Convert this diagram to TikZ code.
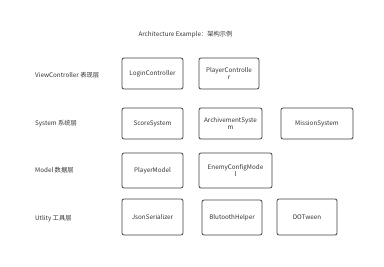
\documentclass[tikz,border=0pt]{standalone}
\usepackage{fontspec}
\setmainfont{Noto Sans CJK SC}
\begin{document}
\begin{tikzpicture}[x=1pt,y=-1pt,
  box/.style={draw=black!75, line width=0.8pt, rounded corners=2pt, align=center,
    inner sep=1pt, font=\fontsize{6.3}{7.5}\selectfont, text=black!80},
  lab/.style={anchor=west, inner sep=0pt, font=\fontsize{6.3}{7.5}\selectfont, text=black!80}]
\useasboundingbox (0,0) rectangle (384,266);
\node[inner sep=0pt, font=\fontsize{6.3}{7.5}\selectfont, text=black!80] (title) at (185.5,35) {Architecture Example：架构示例};
\node[lab] (l1) at (35,75) {ViewController 表现层};
\node[lab] (l2) at (35,124) {System 系统层};
\node[lab] (l3) at (35,170) {Model 数据层};
\node[lab] (l4) at (35,219) {Utlity 工具层};
\node[box, minimum width=61pt, minimum height=31pt] (login) at (152.5,73.5) {LoginController};
\node[box, minimum width=60pt, minimum height=31pt] (player) at (229,73.5) {PlayerControlle\\r};
\node[box, minimum width=61pt, minimum height=31pt] (score) at (152.5,123.5) {ScoreSystem};
\node[box, minimum width=63pt, minimum height=31pt] (arch) at (230.5,123.5) {ArchivementSyste\\m};
\node[box, minimum width=72pt, minimum height=31pt] (mission) at (317,123.5) {MissionSystem};
\node[box, minimum width=61pt, minimum height=35pt] (pmodel) at (152.5,170.5) {PlayerModel};
\node[box, minimum width=73pt, minimum height=35pt] (enemy) at (235.5,170.5) {EnemyConfigMode\\l};
\node[box, minimum width=61pt, minimum height=36pt] (json) at (152.5,217) {JsonSerializer};
\node[box, minimum width=60pt, minimum height=35pt] (blue) at (232,217.5) {BlutoothHelper};
\node[box, minimum width=60pt, minimum height=36pt] (dot) at (307,217) {DOTween};
\end{tikzpicture}
\end{document}
